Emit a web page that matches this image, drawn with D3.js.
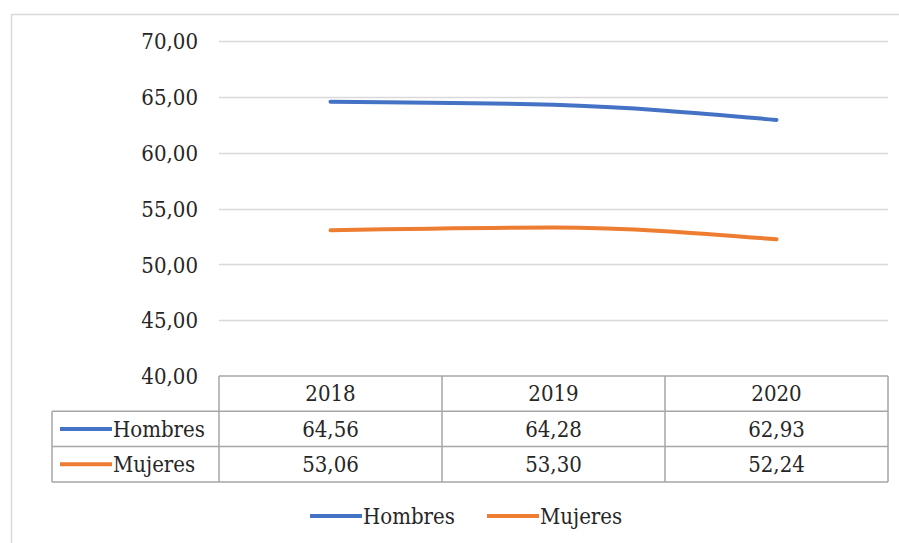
<!DOCTYPE html>
<html>
<head>
<meta charset="utf-8">
<script src="https://cdn.jsdelivr.net/npm/d3@7"></script>
<style>
  html, body { margin: 0; padding: 0; background: #fff; }
  svg { display: block; }
  svg text { font-stretch: condensed; }
</style>
</head>
<body>
<svg id="chart" width="899" height="543"></svg>
<script>
// Years shown on the category axis and in the data table
const years = ["2018", "2019", "2020"];
// Series values
const hombres = [64.56, 64.28, 62.93];
const mujeres = [53.06, 53.30, 52.24];
const seriesNames = ["Hombres", "Mujeres"];
const seriesColors = ["#4472C4", "#ED7D31"];
// Value axis ticks
const yTicks = [40, 45, 50, 55, 60, 65, 70];

const series = [
  { name: seriesNames[0], values: hombres, color: seriesColors[0] },
  { name: seriesNames[1], values: mujeres, color: seriesColors[1] }
];

const svg = d3.select("#chart");
const fmt = v => d3.format(".2f")(v).replace(".", ",");
const textColor = "#262626";
const fontSize = 22;
const serif = "'DejaVu Serif Condensed', 'DejaVu Serif', serif";

// Plot area
const plotLeft = 219, plotRight = 888, plotTop = 41, plotBottom = 376;
const tableLeft = 52, rowH = 35.3;

// Chart frame
svg.append("rect")
  .attr("x", 11.5).attr("y", 14.5)
  .attr("width", 1000).attr("height", 1000)
  .attr("fill", "none").attr("stroke", "#d9d9d9").attr("stroke-width", 1.5);

const x = d3.scaleBand().domain(years).range([plotLeft, plotRight]);
const y = d3.scaleLinear().domain([40, 70]).range([plotBottom, plotTop]);

// Gridlines
svg.append("g").selectAll("line").data(yTicks.filter(t => t > 40)).join("line")
  .attr("x1", plotLeft).attr("x2", plotRight)
  .attr("y1", d => Math.round(y(d)) + 0.5).attr("y2", d => Math.round(y(d)) + 0.5)
  .attr("stroke", "#d9d9d9").attr("stroke-width", 1.5);

// Value axis labels
const yAxis = d3.axisLeft(y).tickValues(yTicks).tickFormat(fmt).tickSize(0).tickPadding(0);
const yg = svg.append("g").attr("transform", `translate(${198},0)`).call(yAxis);
yg.attr("font-family", serif).attr("font-size", fontSize);
yg.select(".domain").remove();
yg.selectAll("text")
  .attr("fill", textColor)
  .attr("dy", "0.35em");

// Lines
const line = d3.line()
  .x((d, i) => x(years[i]) + x.bandwidth() / 2)
  .y(d => y(d))
  .curve(d3.curveMonotoneX);

svg.append("g").selectAll("path").data(series).join("path")
  .attr("d", d => line(d.values))
  .attr("fill", "none")
  .attr("stroke", d => d.color)
  .attr("stroke-width", 4)
  .attr("stroke-linecap", "round");

// Data table
const tbl = svg.append("g").attr("font-family", serif).attr("font-size", fontSize);
const gridStroke = "#a6a6a6";
const rowsY = [plotBottom, plotBottom + rowH, plotBottom + 2 * rowH, plotBottom + 3 * rowH];

tbl.append("line").attr("x1", plotLeft).attr("x2", plotRight)
  .attr("y1", rowsY[0]).attr("y2", rowsY[0]).attr("stroke", gridStroke).attr("stroke-width", 1.5);
[1, 2, 3].forEach(i => {
  tbl.append("line").attr("x1", tableLeft).attr("x2", plotRight)
    .attr("y1", rowsY[i]).attr("y2", rowsY[i]).attr("stroke", gridStroke).attr("stroke-width", 1.5);
});
tbl.append("line").attr("x1", tableLeft).attr("x2", tableLeft)
  .attr("y1", rowsY[1]).attr("y2", rowsY[3]).attr("stroke", gridStroke).attr("stroke-width", 1.5);
const colEdges = [plotLeft].concat(years.map(yr => x(yr) + x.bandwidth()));
colEdges.forEach(cx => {
  tbl.append("line").attr("x1", cx).attr("x2", cx)
    .attr("y1", rowsY[0]).attr("y2", rowsY[3]).attr("stroke", gridStroke).attr("stroke-width", 1.5);
});

tbl.append("g").selectAll("text").data(years).join("text")
  .attr("x", d => x(d) + x.bandwidth() / 2)
  .attr("y", rowsY[0] + rowH / 2)
  .attr("dy", "0.35em")
  .attr("text-anchor", "middle")
  .attr("fill", textColor)
  .text(d => d);

series.forEach((s, si) => {
  const cy = rowsY[si + 1] + rowH / 2;
  tbl.append("line")
    .attr("x1", 60).attr("x2", 112).attr("y1", cy).attr("y2", cy)
    .attr("stroke", s.color).attr("stroke-width", 4);
  tbl.append("text")
    .attr("x", 113).attr("y", cy).attr("dy", "0.35em")
    .attr("fill", textColor)
    .text(s.name);
  tbl.append("g").selectAll("text").data(s.values).join("text")
    .attr("x", (d, i) => x(years[i]) + x.bandwidth() / 2)
    .attr("y", cy).attr("dy", "0.35em")
    .attr("text-anchor", "middle")
    .attr("fill", textColor)
    .text(d => fmt(d));
});

// Legend
const legendY = 516;
const legendItems = [
  { x: 310, s: series[0] },
  { x: 487, s: series[1] }
];
const lg = svg.append("g").attr("font-family", serif).attr("font-size", fontSize);
legendItems.forEach(it => {
  lg.append("line").attr("x1", it.x).attr("x2", it.x + 52)
    .attr("y1", legendY).attr("y2", legendY)
    .attr("stroke", it.s.color).attr("stroke-width", 4);
  lg.append("text").attr("x", it.x + 53).attr("y", legendY).attr("dy", "0.35em")
    .attr("fill", textColor)
    .text(it.s.name);
});
</script>
</body>
</html>
